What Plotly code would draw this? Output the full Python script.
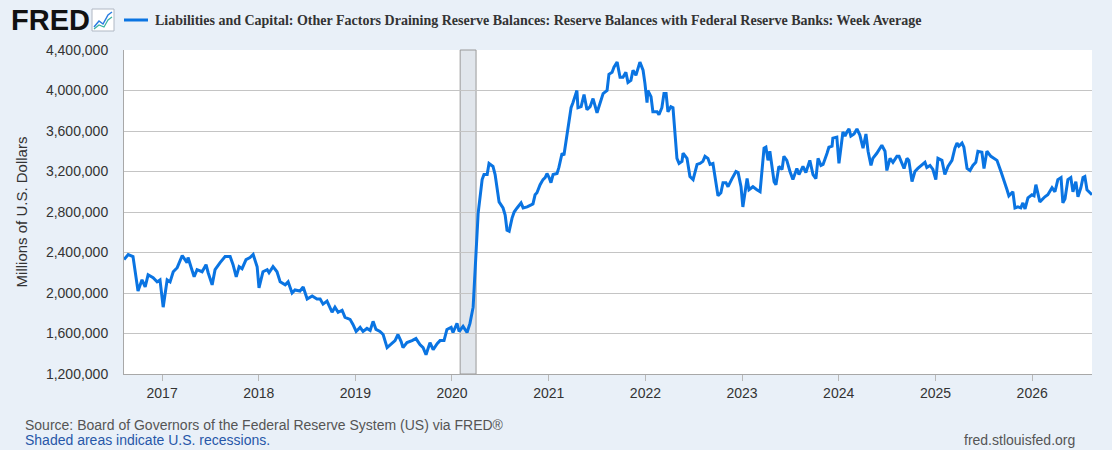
import plotly.graph_objects as go

# weekly reserve balances (millions of USD)
DATES = [
    "2016-08-10", "2016-08-26", "2016-09-13", "2016-10-02", "2016-10-17", "2016-10-29", "2016-11-09",
    "2016-11-28", "2016-12-13", "2016-12-24", "2017-01-05", "2017-01-20", "2017-01-31", "2017-02-12",
    "2017-02-27", "2017-03-10", "2017-03-18", "2017-04-05", "2017-04-09", "2017-04-21", "2017-05-02",
    "2017-05-13", "2017-06-01", "2017-06-16", "2017-06-24", "2017-07-09", "2017-07-20", "2017-08-08",
    "2017-08-27", "2017-09-15", "2017-09-26", "2017-10-08", "2017-10-19", "2017-10-30", "2017-11-14",
    "2017-11-29", "2017-12-11", "2017-12-26", "2018-01-02", "2018-01-17", "2018-02-02", "2018-02-09",
    "2018-02-24", "2018-03-11", "2018-03-23", "2018-04-11", "2018-04-22", "2018-05-07", "2018-05-18",
    "2018-06-06", "2018-06-18", "2018-07-03", "2018-07-22", "2018-08-09", "2018-08-21", "2018-09-01",
    "2018-09-16", "2018-10-05", "2018-10-16", "2018-10-28", "2018-11-12", "2018-11-23", "2018-12-12",
    "2018-12-23", "2019-01-04", "2019-01-19", "2019-01-30", "2019-02-14", "2019-02-26", "2019-03-09",
    "2019-03-20", "2019-04-04", "2019-04-16", "2019-05-01", "2019-05-16", "2019-05-31", "2019-06-11",
    "2019-06-23", "2019-06-30", "2019-07-15", "2019-08-03", "2019-08-18", "2019-09-02", "2019-09-14",
    "2019-09-25", "2019-10-10", "2019-10-22", "2019-11-06", "2019-11-17", "2019-12-02", "2019-12-13",
    "2019-12-29", "2020-01-05", "2020-01-20", "2020-01-28", "2020-02-12", "2020-02-27", "2020-03-09",
    "2020-03-21", "2020-03-25", "2020-04-01", "2020-04-09", "2020-04-24", "2020-05-01", "2020-05-13",
    "2020-05-20", "2020-06-04", "2020-06-12", "2020-06-19", "2020-06-27", "2020-07-12", "2020-07-20",
    "2020-07-27", "2020-08-04", "2020-08-15", "2020-08-23", "2020-09-03", "2020-09-18", "2020-09-26",
    "2020-10-11", "2020-10-26", "2020-11-02", "2020-11-10", "2020-11-17", "2020-11-29", "2020-12-10",
    "2020-12-18", "2020-12-25", "2021-01-02", "2021-01-09", "2021-01-17", "2021-02-01", "2021-02-08",
    "2021-02-20", "2021-02-27", "2021-03-07", "2021-03-14", "2021-03-26", "2021-04-02", "2021-04-17",
    "2021-04-21", "2021-05-03", "2021-05-14", "2021-05-25", "2021-06-06", "2021-06-17", "2021-07-02",
    "2021-07-13", "2021-07-25", "2021-08-09", "2021-08-16", "2021-08-28", "2021-09-04", "2021-09-16",
    "2021-09-27", "2021-10-08", "2021-10-19", "2021-10-27", "2021-11-07", "2021-11-15", "2021-11-26",
    "2021-12-11", "2021-12-23", "2021-12-30", "2022-01-07", "2022-01-10", "2022-01-22", "2022-01-29",
    "2022-02-14", "2022-02-21", "2022-03-04", "2022-03-12", "2022-03-20", "2022-03-27", "2022-04-07",
    "2022-04-15", "2022-04-23", "2022-04-30", "2022-05-08", "2022-05-19", "2022-05-23", "2022-06-07",
    "2022-06-18", "2022-06-30", "2022-07-15", "2022-07-26", "2022-08-06", "2022-08-14", "2022-08-25",
    "2022-09-02", "2022-09-13", "2022-09-21", "2022-10-02", "2022-10-13", "2022-10-21", "2022-11-01",
    "2022-11-09", "2022-11-24", "2022-12-09", "2022-12-17", "2022-12-28", "2023-01-04", "2023-01-20",
    "2023-01-27", "2023-02-11", "2023-02-26", "2023-03-10", "2023-03-25", "2023-04-01", "2023-04-09",
    "2023-04-16", "2023-05-02", "2023-05-09", "2023-05-20", "2023-06-01", "2023-06-08", "2023-06-19",
    "2023-07-01", "2023-07-12", "2023-07-27", "2023-08-04", "2023-08-19", "2023-08-30", "2023-09-14",
    "2023-09-26", "2023-10-07", "2023-10-15", "2023-10-26", "2023-11-03", "2023-11-18", "2023-11-25",
    "2023-12-07", "2023-12-10", "2023-12-25", "2024-01-02", "2024-01-17", "2024-01-25", "2024-02-01",
    "2024-02-09", "2024-02-16", "2024-02-28", "2024-03-10", "2024-03-21", "2024-04-02", "2024-04-13",
    "2024-04-21", "2024-05-02", "2024-05-09", "2024-05-24", "2024-06-12", "2024-06-24", "2024-07-01",
    "2024-07-13", "2024-07-24", "2024-08-08", "2024-08-16", "2024-08-27", "2024-09-04", "2024-09-15",
    "2024-09-22", "2024-10-04", "2024-10-15", "2024-10-26", "2024-11-10", "2024-11-22", "2024-11-29",
    "2024-12-11", "2024-12-22", "2025-01-02", "2025-01-10", "2025-01-25", "2025-02-05", "2025-02-17",
    "2025-03-04", "2025-03-15", "2025-03-23", "2025-03-30", "2025-04-11", "2025-04-18", "2025-04-30",
    "2025-05-11", "2025-05-22", "2025-06-02", "2025-06-10", "2025-06-25", "2025-07-03", "2025-07-14",
    "2025-07-29", "2025-08-09", "2025-08-21", "2025-09-05", "2025-09-12", "2025-09-28", "2025-10-05",
    "2025-10-20", "2025-10-28", "2025-11-08", "2025-11-19", "2025-11-27", "2025-12-05", "2025-12-16",
    "2025-12-31", "2026-01-08", "2026-01-15", "2026-01-30", "2026-02-18", "2026-03-01", "2026-03-17",
    "2026-03-28", "2026-04-08", "2026-04-20", "2026-04-27", "2026-05-05", "2026-05-16", "2026-05-27",
    "2026-06-04", "2026-06-15", "2026-06-23", "2026-07-04", "2026-07-12", "2026-07-19", "2026-07-27",
    "2026-08-03", "2026-08-15",
]
VALUES = [
    2330000, 2380000, 2360000, 2020000, 2130000, 2060000, 2180000,
    2150000, 2110000, 2130000, 1860000, 2130000, 2110000, 2210000,
    2250000, 2330000, 2370000, 2300000, 2350000, 2250000, 2160000,
    2230000, 2210000, 2280000, 2200000, 2080000, 2230000, 2300000,
    2360000, 2360000, 2280000, 2160000, 2260000, 2240000, 2330000,
    2350000, 2380000, 2260000, 2050000, 2210000, 2230000, 2200000,
    2260000, 2210000, 2110000, 2080000, 2110000, 2000000, 2030000,
    2020000, 2060000, 1940000, 1970000, 1940000, 1940000, 1890000,
    1920000, 1810000, 1860000, 1810000, 1830000, 1760000, 1740000,
    1690000, 1620000, 1660000, 1620000, 1650000, 1630000, 1720000,
    1640000, 1620000, 1590000, 1460000, 1500000, 1530000, 1590000,
    1520000, 1460000, 1510000, 1530000, 1550000, 1490000, 1460000,
    1390000, 1510000, 1440000, 1500000, 1530000, 1530000, 1640000,
    1660000, 1610000, 1700000, 1620000, 1670000, 1610000, 1700000,
    1860000, 2100000, 2400000, 2790000, 3120000, 3170000, 3170000,
    3280000, 3250000, 3170000, 3020000, 2900000, 2840000, 2770000,
    2620000, 2610000, 2740000, 2800000, 2840000, 2890000, 2840000,
    2850000, 2870000, 2880000, 2970000, 2990000, 3070000, 3120000,
    3140000, 3180000, 3140000, 3090000, 3170000, 3180000, 3240000,
    3380000, 3360000, 3510000, 3610000, 3830000, 3880000, 4000000,
    3830000, 3840000, 3960000, 3810000, 3840000, 3920000, 3780000,
    3880000, 3970000, 4000000, 4160000, 4180000, 4230000, 4280000,
    4130000, 4130000, 4180000, 4080000, 4100000, 4200000, 4150000,
    4280000, 4200000, 4070000, 3880000, 4000000, 3940000, 3790000,
    3790000, 3760000, 3830000, 3970000, 3970000, 3790000, 3840000,
    3830000, 3580000, 3330000, 3280000, 3300000, 3380000, 3330000,
    3150000, 3120000, 3270000, 3280000, 3300000, 3350000, 3330000,
    3270000, 3280000, 3150000, 2960000, 2990000, 3090000, 3090000,
    3050000, 3130000, 3200000, 3190000, 3050000, 2850000, 3130000,
    3020000, 3050000, 3020000, 3000000, 3430000, 3440000, 3310000,
    3400000, 3100000, 3070000, 3250000, 3220000, 3350000, 3310000,
    3200000, 3120000, 3230000, 3170000, 3250000, 3190000, 3310000,
    3170000, 3130000, 3330000, 3260000, 3270000, 3380000, 3440000,
    3450000, 3530000, 3540000, 3280000, 3590000, 3550000, 3590000,
    3620000, 3550000, 3570000, 3620000, 3560000, 3430000, 3570000,
    3400000, 3260000, 3330000, 3380000, 3460000, 3400000, 3210000,
    3330000, 3290000, 3350000, 3350000, 3290000, 3230000, 3330000,
    3310000, 3100000, 3200000, 3230000, 3260000, 3290000, 3240000,
    3260000, 3220000, 3120000, 3330000, 3310000, 3170000, 3250000,
    3310000, 3430000, 3480000, 3450000, 3480000, 3440000, 3230000,
    3210000, 3260000, 3290000, 3400000, 3390000, 3230000, 3400000,
    3350000, 3330000, 3310000, 3200000, 3150000, 3020000, 2960000,
    3000000, 2840000, 2850000, 2840000, 2890000, 2830000, 2940000,
    2970000, 2960000, 3070000, 2900000, 2950000, 2970000, 3040000,
    3000000, 3120000, 3140000, 2890000, 2930000, 3120000, 3140000,
    3000000, 3100000, 2950000, 3040000, 3140000, 3150000, 3020000,
    3000000, 2970000,
]
SERIES_NAME = ("Liabilities and Capital: Other Factors Draining Reserve Balances: "
               "Reserve Balances with Federal Reserve Banks: Week Average")
RECESSION = ("2020-02-01", "2020-04-01")
X_RANGE = ["2016-08-10", "2026-08-15"]
Y_TICKS = [1200000, 1600000, 2000000, 2400000, 2800000, 3200000, 3600000, 4000000, 4400000]
YEARS = [str(y) for y in range(2017, 2027)]

BLUE = "#0a74e2"
BG = "#e9f0f8"
FONT = "Liberation Sans, Arial, sans-serif"
W, H = 1112, 450
L, R, T, B = 124, 20, 50, 76


def px(xp, yp):
    # pixel position -> paper coordinates (for header/footer decorations)
    return (xp - L) / (W - L - R), (H - B - yp) / (H - T - B)


fig = go.Figure()
fig.add_vrect(x0=RECESSION[0], x1=RECESSION[1], fillcolor="#e1e6ec", opacity=1,
              line=dict(color="#9a9a9a", width=1), layer="below")
fig.add_trace(go.Scatter(x=DATES, y=VALUES, mode="lines", name=SERIES_NAME,
                         line=dict(color=BLUE, width=3), showlegend=False))

fig.update_xaxes(type="date", range=X_RANGE, showgrid=False,
                 tickvals=[f"{y}-01-01" for y in YEARS], ticktext=YEARS,
                 ticks="outside", ticklen=6, tickcolor="#b8b8b8", tickwidth=1,
                 showline=True, linecolor="#a8a8a8", linewidth=1,
                 tickfont=dict(family=FONT, size=14, color="#333"))
fig.update_yaxes(range=[Y_TICKS[0], Y_TICKS[-1]], tickvals=Y_TICKS, tickformat=",",
                 showgrid=True, gridcolor="#c4c4c4", gridwidth=1.3, zeroline=False,
                 showline=True, linecolor="#a8a8a8", linewidth=1,
                 ticks="", ticklabelstandoff=12,
                 tickfont=dict(family=FONT, size=14, color="#333"),
                 title=dict(text="Millions of U.S. Dollars", standoff=14,
                            font=dict(family=FONT, size=15, color="#333")))

# header: FRED logo, legend line, series title
lx, ly = px(9, 20)
fig.add_annotation(xref="paper", yref="paper", x=lx, y=ly, xanchor="left", yanchor="middle",
                   text="<b>FRED</b>", showarrow=False,
                   font=dict(family="Liberation Sans, Arial", size=29, color="#111"))
ix0, iy0 = px(92, 31)
ix1, iy1 = px(114, 9)
fig.add_shape(type="rect", xref="paper", yref="paper", x0=ix0, y0=iy0, x1=ix1, y1=iy1,
              fillcolor="#ffffff", line=dict(color="#b0b8c4", width=1))
p = [px(94, 27), px(99, 21), px(103, 24), px(108, 15), px(112, 12)]
fig.add_shape(type="path", xref="paper", yref="paper",
              path="M " + " L ".join(f"{a},{b}" for a, b in p),
              line=dict(color="#2a7de1", width=1.5))
p2 = [px(94, 29), px(99, 25), px(104, 27), px(108, 20), px(112, 17)]
fig.add_shape(type="path", xref="paper", yref="paper",
              path="M " + " L ".join(f"{a},{b}" for a, b in p2),
              line=dict(color="#39b3a0", width=1.2))
a0, ay = px(124, 20)
a1, _ = px(148, 20)
fig.add_shape(type="line", xref="paper", yref="paper", x0=a0, y0=ay, x1=a1, y1=ay,
              line=dict(color=BLUE, width=3))
tx, ty = px(153, 20)
fig.add_annotation(xref="paper", yref="paper", x=tx, y=ty, xanchor="left", yanchor="middle",
                   text=f"<b>{SERIES_NAME}</b>", showarrow=False,
                   font=dict(family="Liberation Serif, Times New Roman, serif", size=14, color="#333"))

# footer
sx, sy = px(23, 425)
fig.add_annotation(xref="paper", yref="paper", x=sx, y=sy, xanchor="left", yanchor="middle",
                   text="Source: Board of Governors of the Federal Reserve System (US) via FRED®",
                   showarrow=False, font=dict(family=FONT, size=14, color="#555"))
sx, sy = px(23, 440)
fig.add_annotation(xref="paper", yref="paper", x=sx, y=sy, xanchor="left", yanchor="middle",
                   text="Shaded areas indicate U.S. recessions.",
                   showarrow=False, font=dict(family=FONT, size=14, color="#2757a8"))
fx, fy = px(1077, 440)
fig.add_annotation(xref="paper", yref="paper", x=fx, y=fy, xanchor="right", yanchor="middle",
                   text="fred.stlouisfed.org",
                   showarrow=False, font=dict(family=FONT, size=14, color="#555"))

fig.update_layout(width=W, height=H, margin=dict(l=L, r=R, t=T, b=B),
                  paper_bgcolor=BG, plot_bgcolor="#ffffff",
                  font=dict(family=FONT, color="#333"), showlegend=False)

# page body has a default 8px margin; drop it so the figure fills the window
fig.write_html("out.html", config={"displayModeBar": False},
               post_script=f"document.body.style.margin='0';document.body.style.background='{BG}';")
